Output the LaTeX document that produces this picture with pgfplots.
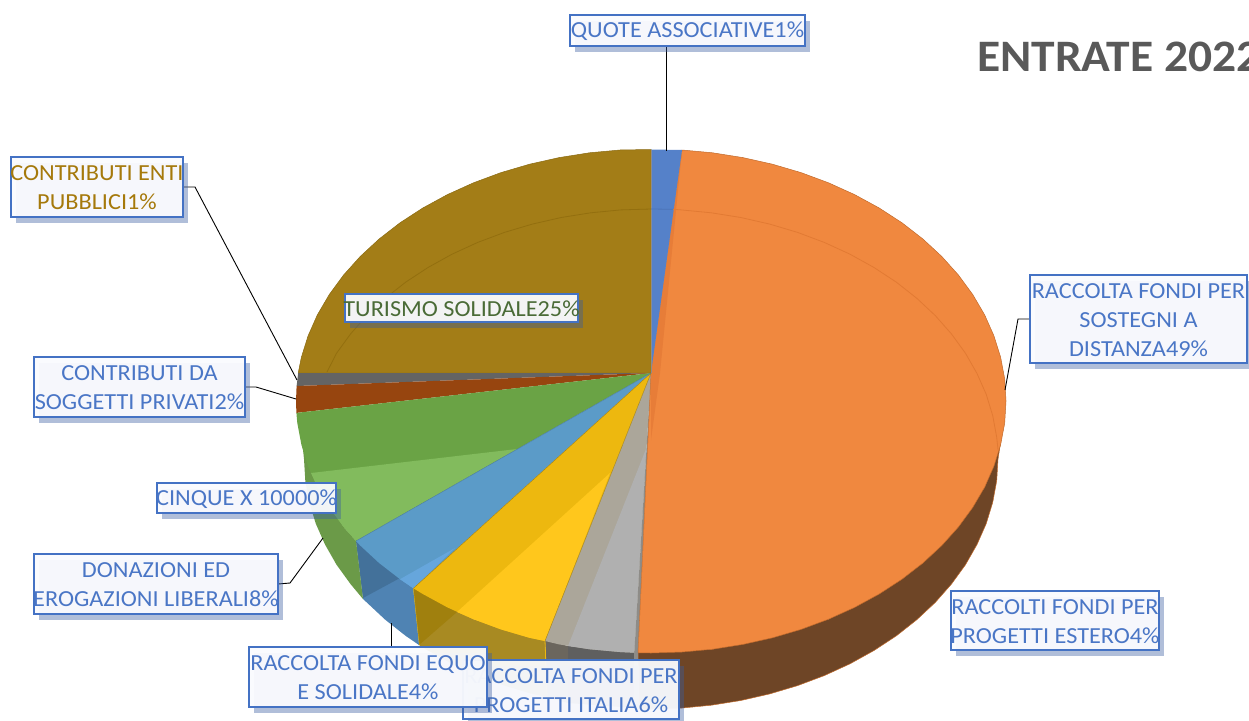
\documentclass[border=0pt]{standalone}
\usepackage{pgfplots}
\pgfplotsset{compat=1.18}
\usepackage{fontspec}
\setmainfont{Carlito}[FakeStretch=1.055]
\definecolor{cGold}{HTML}{A37D17}
\definecolor{cGoldE}{HTML}{8A6A12}
\definecolor{cGrey}{HTML}{646464}
\definecolor{cBrown}{HTML}{97450F}
\definecolor{cGreenD}{HTML}{6AA345}
\definecolor{cGreenL}{HTML}{82BB5D}
\definecolor{cBlue}{HTML}{5B9BC8}
\definecolor{cBlueL}{HTML}{66A6DC}
\definecolor{cYelD}{HTML}{EDB80F}
\definecolor{cYelL}{HTML}{FFC71C}
\definecolor{cGrayD}{HTML}{ABA69A}
\definecolor{cGrayL}{HTML}{B0B0B0}
\definecolor{cSliver}{HTML}{8E8C88}
\definecolor{cOr}{HTML}{F0883F}
\definecolor{cOrD}{HTML}{E77D38}
\definecolor{cOrE}{HTML}{C06A2C}
\definecolor{cQuote}{HTML}{5581C9}
\definecolor{wOr}{HTML}{6E4526}
\definecolor{wGrayA}{HTML}{6B665D}
\definecolor{wGrayB}{HTML}{5F5F5F}
\definecolor{wYel}{HTML}{A88A22}
\definecolor{wYelD}{HTML}{A0800E}
\definecolor{wBlue}{HTML}{4F83B3}
\definecolor{wBlueD}{HTML}{43719A}
\definecolor{wGreen}{HTML}{6B9A48}
\definecolor{cBorder}{HTML}{4472C4}
\definecolor{cBoxF}{HTML}{FAFBFE}
\definecolor{cShadow}{HTML}{395CA0}
\definecolor{tBlue}{HTML}{4A76C6}
\definecolor{tGold}{HTML}{A5790B}
\definecolor{tGreen}{HTML}{4A6B37}
\definecolor{tTitle}{HTML}{595959}
\definecolor{gGold}{HTML}{936F0F}
\definecolor{gBlue}{HTML}{4C74B8}
\definecolor{gOr}{HTML}{E27A33}
\newcommand{\lab}[6]{%
  \fill[cShadow,fill opacity=.4] (axis cs:#1+5,#2+6) rectangle (axis cs:#3+5,#4+6);
  \fill[cBoxF,fill opacity=.95] (axis cs:#1,#2) rectangle (axis cs:#3,#4);
  \draw[cBorder,line width=2.3pt] (axis cs:#1,#2) rectangle (axis cs:#3,#4);
  \node[text=#5,align=center,inner sep=0pt,font=\fontsize{23}{29}\selectfont] at (axis cs:{(#1+#3)/2},{(#2+#4)/2+1}) {#6};
}
\begin{document}
\begin{tikzpicture}
\clip (0,0) rectangle (1249pt,720pt);
\begin{axis}[at={(0,0)},anchor=south west,width=1249pt,height=720pt,scale only axis,
  xmin=0,xmax=1249,ymin=0,ymax=720,y dir=reverse,hide axis,clip=false]
% side walls
\addplot[fill=wOr,draw=cOrE,line width=.5pt] coordinates {(1001,440)(998,459)(996.7,480.8)(992.7,502.4)(986.2,523.7)(977,544.5)(965.5,564.7)(951.5,584)(935.3,602.4)(916.8,619.7)(896.4,635.8)(874,650.5)(850,663.8)(824.5,675.5)(797.6,685.6)(769.7,693.9)(740.8,700.5)(711.3,705.2)(681.3,708.1)(651,709)(639,709)(638,652)(712.6,649.2)(828.5,619.2)(922.9,563)(984.6,487.2)} --cycle;
\addplot[fill=wGrayB,draw=none] coordinates {(634,651)(634,708)(568,703)(568,646)} --cycle;
\addplot[fill=wGrayA,draw=none] coordinates {(568,646)(568,703)(547,697)(545,640)} --cycle;
\addplot[fill=cSliver,draw=none] coordinates {(634,651)(638,652)(639,709)(634,708)} --cycle;
\addplot[fill=wYel,draw=none] coordinates {(413,588)(419,645)(428,650.5)(452,663.8)(477.5,675.5)(504.4,685.6)(532.3,693.9)(547,697)(545,640)(473.5,619.2)} --cycle;
\addplot[fill=wYelD,draw=none] coordinates {(413,588)(457,612)(419,645)} --cycle;
\addplot[draw=cYelD,line width=.8pt] coordinates {(413,588)(419,645)};
\addplot[draw=cYelD,line width=.8pt] coordinates {(545,640)(547,697)};
\addplot[fill=wBlue,draw=none] coordinates {(363,599)(366.7,602.4)(385.2,619.7)(405.6,635.8)(419,645)(413,588)(379.1,563)(356,541)} --cycle;
\addplot[fill=wBlueD,draw=none] coordinates {(356,541)(400,578)(363,598)} --cycle;
\addplot[fill=wGreen,draw=none] coordinates {(363,599)(350.5,584)(336.5,564.7)(325,544.5)(315.8,523.7)(309.3,502.4)(305.3,480.8)(304,459)(302,440)(317.4,487.2)(343.6,527)(356,541)} --cycle;
% top faces
\addplot[fill=cGold,draw=cGoldE,line width=.5pt] coordinates {(651,373)(298.2,373)(301.4,357.2)(308.1,335.8)(317.4,314.8)(329.3,294.5)(343.6,275)(360.2,256.5)(379.1,239)(400,222.8)(422.8,208)(447.4,194.6)(473.5,182.8)(501,172.6)(529.6,164.2)(559.1,157.6)(589.4,152.8)(620,150)(651,149.5)} --cycle;
\addplot[fill=cGrey,draw=none] coordinates {(651,373)(296.6,386)(298.2,373)} --cycle;
\addplot[fill=cBrown,draw=none] coordinates {(651,373)(296.4,412.9)(296,401)(296.6,386)} --cycle;
\addplot[fill=cGreenD,draw=none] coordinates {(651,373)(356,541)(343.6,527)(329.3,507.5)(317.4,487.2)(308.1,466.2)(301.4,444.8)(297.3,423)(296.4,412.9)} --cycle;
\addplot[fill=cGreenL,draw=none] coordinates {(311,473)(317.4,487.2)(329.3,507.5)(343.6,527)(356,541)(517,449)} --cycle;
\addplot[fill=cBlue,draw=none] coordinates {(651,373)(413.4,588.3)(400,579.2)(379.1,563)(360.2,545.5)(356,541)} --cycle;
\addplot[fill=cBlueL,draw=none] coordinates {(400,579.2)(455,548)(413.4,588.3)} --cycle;
\addplot[fill=cYelD,draw=none] coordinates {(651,373)(545,641)(529.6,637.8)(501,629.4)(473.5,619.2)(447.4,607.4)(422.8,594)(413.4,588.3)} --cycle;
\addplot[fill=cYelL,draw=none] coordinates {(610,473)(545,641)(529.6,637.8)(501,629.4)(473.5,619.2)(457,612)} --cycle;
\addplot[fill=cGrayD,draw=none] coordinates {(651,373)(634.3,652.7)(620,652)(589.4,649.2)(559.1,644.4)(545,641)} --cycle;
\addplot[fill=cGrayL,draw=none] coordinates {(646.4,448)(634.3,652.7)(620,652)(589.4,649.2)(568,646)} --cycle;
\addplot[fill=cSliver,draw=none] coordinates {(651,373)(638,652.8)(634.3,652.7)} --cycle;
\addplot[fill=cOr,draw=cOrE,line width=.5pt] coordinates {(651,373)(682,150)(712.6,152.8)(742.9,157.6)(772.4,164.2)(801,172.6)(828.5,182.8)(854.6,194.6)(879.2,208)(902,222.8)(922.9,239)(941.8,256.5)(958.4,275)(972.7,294.5)(984.6,314.8)(993.9,335.8)(1000.6,357.2)(1004.7,379)(1006,401)(1004.7,423)(1000.6,444.8)(993.9,466.2)(984.6,487.2)(972.7,507.5)(958.4,527)(941.8,545.5)(922.9,563)(902,579.2)(879.2,594)(854.6,607.4)(828.5,619.2)(801,629.4)(772.4,637.8)(742.9,644.4)(712.6,649.2)(682,652)(651,653)(638,652.8)} --cycle;
\addplot[fill=cOrD,draw=none] coordinates {(682,150)(651,373)(651,440)(660,373)} --cycle;
\addplot[fill=cQuote,draw=none] coordinates {(651,373)(651,149.5)(682,150)} --cycle;
\addplot[draw=cYelD!70!black,line width=.4pt] coordinates {(651,373)(413.4,588.3)};
\addplot[draw=cYelD!70!black,line width=.4pt] coordinates {(651,373)(545,641)};
\addplot[draw=cBlue!80!black,line width=.4pt] coordinates {(651,373)(356,541)};
\addplot[draw=black!45,line width=.6pt] coordinates {(651,149.5)(651,373)};
% see-through far edge of the base
\addplot[draw=gGold,line width=.8pt] coordinates {(327,372)(336.5,353.3)(350.5,334)(366.7,315.6)(385.2,298.3)(405.6,282.2)(428,267.5)(452,254.2)(477.5,242.5)(504.4,232.4)(532.3,224.1)(561.2,217.5)(590.7,212.8)(620.7,209.9)(651,209)};
\addplot[draw=gBlue,line width=.8pt] coordinates {(651,209)(673,209.3)};
\addplot[draw=gOr,line width=.8pt] coordinates {(673,209.3)(681.3,209.9)(711.3,212.8)(740.8,217.5)(769.7,224.1)(797.6,232.4)(824.5,242.5)(850,254.2)(874,267.5)(896.4,282.2)(916.8,298.3)(935.3,315.6)(951.5,334)(965.5,353.3)(977,373.5)(986.2,394.3)(992.7,415.6)(996.7,437.2)(998,450)};
% leader lines
\addplot[draw=black,line width=.9pt] coordinates {(666,46)(666,151)};
\addplot[draw=black,line width=.9pt] coordinates {(183,187)(195,187)(297,380)};
\addplot[draw=black,line width=.9pt] coordinates {(245,387)(256,387)(296,399)};
\addplot[draw=black,line width=.9pt] coordinates {(278,584)(290,583)(323,538)};
\addplot[draw=black,line width=.9pt] coordinates {(391,623)(391,647)};
\addplot[draw=black,line width=.9pt] coordinates {(1030,319)(1018,319)(1005,390)};
% labels
\lab{570}{15}{805}{46}{tBlue}{QUOTE ASSOCIATIVE1\%}
\lab{11}{157}{183}{217}{tGold}{CONTRIBUTI ENTI\\PUBBLICI1\%}
\lab{34}{357}{245}{417}{tBlue}{CONTRIBUTI DA\\SOGGETTI PRIVATI2\%}
\lab{345}{294}{578}{322}{tGreen}{TURISMO SOLIDALE25\%}
\lab{157}{483}{336}{513}{tBlue}{CINQUE X 10000\%}
\lab{34}{554}{278}{614}{tBlue}{DONAZIONI ED\\EROGAZIONI LIBERALI8\%}
\lab{463}{660}{679}{719}{tBlue}{RACCOLTA FONDI PER\\PROGETTI ITALIA6\%}
\lab{249}{647}{487}{707}{tBlue}{RACCOLTA FONDI EQUO\\E SOLIDALE4\%}
\lab{1030}{275}{1247}{363}{tBlue}{RACCOLTA FONDI PER\\SOSTEGNI A\\DISTANZA49\%}
\lab{951}{591}{1159}{650}{tBlue}{RACCOLTI FONDI PER\\PROGETTI ESTERO4\%}
\node[anchor=base west,inner sep=0pt,text=tTitle,font=\fontsize{45}{50}\selectfont\bfseries] at (axis cs:977,71) {ENTRATE 2022};
\end{axis}
\end{tikzpicture}
\end{document}
